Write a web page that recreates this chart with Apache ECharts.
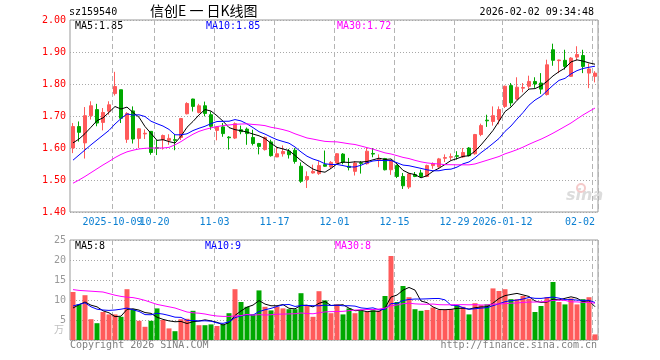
<!DOCTYPE html>
<html><head><meta charset="utf-8">
<script src="https://cdn.jsdelivr.net/npm/echarts@6/dist/echarts.min.js"></script>
<style>html,body{margin:0;padding:0;background:#fff}#c{width:660px;height:360px}</style>
</head><body><div id="c"></div>
<script>
const dates = [
'2025-09-22','2025-09-23','2025-09-24','2025-09-25','2025-09-26','2025-09-29','2025-09-30',
'2025-10-09','2025-10-10','2025-10-13','2025-10-14','2025-10-15','2025-10-16','2025-10-17','2025-10-20','2025-10-21','2025-10-22','2025-10-23','2025-10-24','2025-10-27','2025-10-28','2025-10-29','2025-10-30','2025-10-31',
'2025-11-03','2025-11-04','2025-11-05','2025-11-06','2025-11-07','2025-11-10','2025-11-11','2025-11-12','2025-11-13','2025-11-14','2025-11-17','2025-11-18','2025-11-19','2025-11-20','2025-11-21','2025-11-24','2025-11-25','2025-11-26','2025-11-27','2025-11-28',
'2025-12-01','2025-12-02','2025-12-03','2025-12-04','2025-12-05','2025-12-08','2025-12-09','2025-12-10','2025-12-11','2025-12-12','2025-12-15','2025-12-16','2025-12-17','2025-12-18','2025-12-19','2025-12-22','2025-12-23','2025-12-24','2025-12-25','2025-12-26','2025-12-29','2025-12-30','2025-12-31',
'2026-01-05','2026-01-06','2026-01-07','2026-01-08','2026-01-09','2026-01-12','2026-01-13','2026-01-14','2026-01-15','2026-01-16','2026-01-19','2026-01-20','2026-01-21','2026-01-22','2026-01-23','2026-01-26','2026-01-27','2026-01-28','2026-01-29','2026-01-30',
'2026-02-02'];

const opens = [1.600,1.667,1.616,1.701,1.720,1.680,1.715,1.770,1.782,1.627,
1.716,1.630,1.644,1.652,1.601,1.626,1.624,1.626,1.633,1.707,
1.753,1.711,1.732,1.704,1.655,1.666,1.634,1.631,1.657,1.659,
1.633,1.614,1.595,1.619,1.572,1.582,1.590,1.593,1.543,1.501,
1.522,1.520,1.548,1.541,1.553,1.581,1.543,1.527,1.554,1.551,
1.583,1.562,1.567,1.532,1.545,1.511,1.478,1.517,1.522,1.511,
1.545,1.541,1.568,1.571,1.576,1.572,1.600,1.582,1.642,1.687,
1.683,1.689,1.730,1.795,1.753,1.787,1.793,1.808,1.803,1.767,
1.907,1.873,1.874,1.824,1.884,1.889,1.834,1.824];
const closes = [1.667,1.649,1.701,1.732,1.678,1.711,1.735,1.792,1.693,1.708,
1.628,1.660,1.646,1.586,1.599,1.639,1.630,1.624,1.692,1.739,
1.730,1.732,1.708,1.668,1.666,1.645,1.632,1.676,1.651,1.645,
1.614,1.605,1.633,1.576,1.582,1.589,1.579,1.558,1.496,1.511,
1.527,1.545,1.543,1.555,1.582,1.555,1.539,1.553,1.552,1.590,
1.581,1.565,1.532,1.561,1.511,1.482,1.519,1.511,1.511,1.545,
1.551,1.566,1.570,1.573,1.574,1.586,1.576,1.642,1.670,1.685,
1.701,1.720,1.793,1.741,1.790,1.789,1.808,1.800,1.784,1.860,
1.874,1.875,1.855,1.881,1.892,1.855,1.847,1.834];
const lows = [1.584,1.620,1.567,1.689,1.668,1.655,1.704,1.764,1.678,1.616,
1.614,1.600,1.628,1.579,1.578,1.595,1.610,1.593,1.625,1.705,
1.714,1.708,1.699,1.657,1.624,1.635,1.595,1.628,1.643,1.610,
1.608,1.580,1.592,1.573,1.572,1.573,1.567,1.551,1.491,1.475,
1.520,1.516,1.541,1.535,1.551,1.549,1.530,1.514,1.520,1.548,
1.571,1.540,1.530,1.516,1.506,1.472,1.472,1.509,1.509,1.509,
1.535,1.538,1.556,1.562,1.564,1.569,1.574,1.579,1.637,1.666,
1.670,1.674,1.725,1.730,1.749,1.774,1.785,1.788,1.769,1.764,
1.857,1.834,1.845,1.822,1.874,1.834,1.787,1.805];
const highs = [1.678,1.683,1.728,1.746,1.738,1.725,1.746,1.838,1.782,1.712,
1.730,1.662,1.658,1.652,1.625,1.642,1.643,1.643,1.694,1.743,
1.754,1.738,1.745,1.714,1.667,1.678,1.637,1.680,1.670,1.664,
1.657,1.616,1.636,1.626,1.603,1.608,1.597,1.600,1.555,1.527,
1.548,1.559,1.592,1.559,1.584,1.584,1.569,1.559,1.559,1.600,
1.600,1.580,1.569,1.563,1.548,1.522,1.522,1.525,1.532,1.548,
1.555,1.569,1.580,1.583,1.590,1.600,1.603,1.644,1.676,1.704,
1.730,1.730,1.795,1.803,1.821,1.803,1.826,1.821,1.834,1.876,
1.926,1.876,1.907,1.884,1.918,1.907,1.864,1.840];
const volumes = [12.0,8.9,11.2,5.2,4.2,7.0,6.4,6.4,5.8,12.7,
7.7,4.8,3.3,4.8,7.9,5.0,2.9,2.2,5.2,5.3,
7.3,3.7,3.7,3.9,3.5,3.9,6.7,12.7,9.5,8.3,
6.4,12.4,8.3,7.4,8.3,7.9,7.7,7.7,11.7,8.5,
5.8,12.2,9.9,6.7,8.9,6.4,7.9,6.7,7.3,7.0,
7.4,7.3,11.0,21.0,9.5,13.5,10.7,7.7,7.3,7.5,
8.1,7.5,7.5,7.7,8.7,8.3,6.4,9.2,8.7,8.9,
12.9,12.25,12.7,10.2,10.2,11.0,10.3,7.0,8.5,10.7,
14.5,9.5,8.9,10.4,8.9,10.2,10.7,1.4];

// moving-average values for days whose window starts before the shown range
const ma5Early = [1.616,1.628,1.645,1.665];
const ma10Early = [1.562,1.578,1.594,1.610,1.625,1.640,1.655,1.675,1.692];
const ma30Early = [1.490,1.500,1.511,1.523,1.535,1.547,1.558,1.570,1.580,1.588,1.593,1.597,1.599,1.600,1.600,1.600,1.602,1.610,1.620,1.632,1.643,1.652,1.658,1.663,1.667,1.670,1.672,1.674,1.675];
const vma5Early = [8.0,8.8,9.5,8.7];
const vma10Early = [8.5,8.9,9.3,8.3,7.7,7.5,7.4,7.5,7.7];
const vma30Early = [12.6,12.4,12.3,12.2,12.1,12.0,11.6,11.2,10.9,10.7,10.6,10.3,9.9,9.4,8.9,8.6,8.3,8.0,7.5,7.0,6.8,6.7,6.5,6.2,6.0,5.9,5.9,6.0,6.1];

const tickIndex = [7,14,24,34,44,54,64,72,87];
const tickLabels = ['2025-10-09','10-20','11-03','11-17','12-01','12-15','12-29','2026-01-12','02-02'];
const priceTicks = [1.40,1.50,1.60,1.70,1.80,1.90,2.00];
const volTicks = [0,5,10,15,20,25];

const RED = '#ff5a5a', GREEN = '#00a800';
const MONO = 'DejaVu Sans Mono';

function movingAvg(vals, n, early) {
  return vals.map((v, i) => {
    if (i < n - 1) return early[i];
    let s = 0;
    for (let j = i - n + 1; j <= i; j++) s += vals[j];
    return +(s / n).toFixed(4);
  });
}

const candleData = opens.map((o, i) => [o, closes[i], lows[i], highs[i]]);
const volData = volumes.map((v, i) => ({value: v, itemStyle: {color: closes[i] >= opens[i] ? RED : GREEN}}));

const vSplit = {show: true, interval: (i) => tickIndex.includes(i), lineStyle: {color: '#b4b4b4', type: [5, 3], width: 1}};
const hSplit = {show: true, lineStyle: {color: '#a8a8a8', type: [1, 2], width: 1}};
const lastTick = tickIndex[tickIndex.length - 1];
const firstTick = tickIndex[0];

const labelRich = {
  a: {color: '#0a7fd2', fontFamily: MONO, fontSize: 10, padding: [0, 5, 0, 0]},
  b: {color: '#0a7fd2', fontFamily: MONO, fontSize: 10, padding: [0, 0, 0, 0]}
};

function lineS(name, data, color, xi, yi) {
  return {name, type: 'line', data, xAxisIndex: xi, yAxisIndex: yi, symbol: 'none', smooth: false,
    lineStyle: {color, width: 1}, itemStyle: {color}, silent: true, z: 5};
}

const chart = echarts.init(document.getElementById('c'), null, {renderer: 'canvas'});
chart.setOption({
  animation: false,
  backgroundColor: '#fff',
  grid: [
    {left: 70, top: 20, width: 528, height: 192, show: true, borderColor: '#999', borderWidth: 1},
    {left: 70, top: 240, width: 528, height: 100, show: true, borderColor: '#999', borderWidth: 1}
  ],
  xAxis: [
    {type: 'category', gridIndex: 0, position: 'bottom', data: dates, boundaryGap: true,
     axisLine: {show: false}, axisTick: {show: false},
     axisLabel: {interval: (i) => tickIndex.includes(i) && i !== firstTick, hideOverlap: false,
       formatter: (v, i) => {
         const t = tickLabels[tickIndex.indexOf(i)] || '';
         return i === lastTick ? '{b|' + t + '}' : '{a|' + t + '}';
       },
       rich: labelRich, margin: 5, alignMaxLabel: 'right'},
     splitLine: vSplit},
    {type: 'category', gridIndex: 1, position: 'bottom', data: dates, boundaryGap: true,
     axisLine: {show: false}, axisTick: {show: false}, axisLabel: {show: false}, splitLine: vSplit},
    {type: 'category', gridIndex: 0, position: 'bottom', offset: 0, data: dates, boundaryGap: true,
     axisLine: {show: false}, axisTick: {show: false}, splitLine: {show: false},
     axisLabel: {interval: (i) => i === firstTick, hideOverlap: false,
       formatter: (v, i) => '{a|' + (tickLabels[tickIndex.indexOf(i)] || '') + '}',
       rich: labelRich, margin: 5}}
  ],
  yAxis: [
    {type: 'value', gridIndex: 0, min: priceTicks[0], max: priceTicks[priceTicks.length - 1], interval: 0.1,
     axisLine: {show: false}, axisTick: {show: false},
     axisLabel: {color: '#ff0000', fontFamily: MONO, fontSize: 10, margin: 4, formatter: (v) => v.toFixed(2)},
     splitLine: hSplit},
    {type: 'value', gridIndex: 1, min: volTicks[0], max: volTicks[volTicks.length - 1], interval: 5,
     axisLine: {show: false}, axisTick: {show: false},
     axisLabel: {color: '#999', fontFamily: MONO, fontSize: 10, margin: 4, formatter: (v) => v === 0 ? '' : String(v)},
     splitLine: hSplit}
  ],
  series: [
    {type: 'candlestick', xAxisIndex: 0, yAxisIndex: 0, data: candleData, barWidth: 4,
     itemStyle: {color: RED, color0: GREEN, borderColor: RED, borderColor0: GREEN, borderWidth: 1}, z: 3, silent: true},
    lineS('MA5', movingAvg(closes, 5, ma5Early), '#000000', 0, 0),
    lineS('MA10', movingAvg(closes, 10, ma10Early), '#0000ff', 0, 0),
    lineS('MA30', movingAvg(closes, 30, ma30Early), '#ff00ff', 0, 0),
    {type: 'bar', xAxisIndex: 1, yAxisIndex: 1, data: volData, barWidth: 5, z: 3, silent: true},
    lineS('VMA5', movingAvg(volumes, 5, vma5Early), '#000000', 1, 1),
    lineS('VMA10', movingAvg(volumes, 10, vma10Early), '#0000ff', 1, 1),
    lineS('VMA30', movingAvg(volumes, 30, vma30Early), '#ff00ff', 1, 1)
  ],
  graphic: [
    {type: 'text', left: 69, top: 7, style: {text: 'sz159540', font: '10px "DejaVu Sans Mono"', fill: '#000'}},
    {type: 'text', left: 150, top: 4, style: {text: '信创E 一 日K线图', font: '14px "Noto Sans CJK SC"', fill: '#000'}},
    {type: 'text', right: 66, top: 7, style: {text: '2026-02-02 09:34:48', font: '10px "DejaVu Sans Mono"', fill: '#000'}},
    {type: 'text', left: 75, top: 21, style: {text: 'MA5:1.85', font: '10px "DejaVu Sans Mono"', fill: '#000'}},
    {type: 'text', left: 206, top: 21, style: {text: 'MA10:1.85', font: '10px "DejaVu Sans Mono"', fill: '#0000ff'}},
    {type: 'text', left: 337, top: 21, style: {text: 'MA30:1.72', font: '10px "DejaVu Sans Mono"', fill: '#ff00ff'}},
    {type: 'text', left: 75, top: 241, style: {text: 'MA5:8', font: '10px "DejaVu Sans Mono"', fill: '#000'}},
    {type: 'text', left: 205, top: 241, style: {text: 'MA10:9', font: '10px "DejaVu Sans Mono"', fill: '#0000ff'}},
    {type: 'text', left: 335, top: 241, style: {text: 'MA30:8', font: '10px "DejaVu Sans Mono"', fill: '#ff00ff'}},
    {type: 'text', left: 70, top: 340, style: {text: 'Copyright 2026 SINA.COM', font: '10px "DejaVu Sans Mono"', fill: '#808080'}},
    {type: 'text', right: 63, top: 340, style: {text: 'http://finance.sina.com.cn', font: '10px "DejaVu Sans Mono"', fill: '#808080'}},
    {type: 'text', right: 596, top: 324, style: {text: '万', font: '10px "Noto Sans CJK SC"', fill: '#c0c0c0'}},
    {type: 'text', left: 566, top: 188, style: {text: 'sina', font: 'italic bold 16px "DejaVu Sans"', fill: '#dcdcdc'}},
    {type: 'circle', shape: {cx: 581, cy: 188, r: 4}, style: {fill: 'none', stroke: '#f4caca', lineWidth: 2}}
  ]
});
</script>
</body></html>
